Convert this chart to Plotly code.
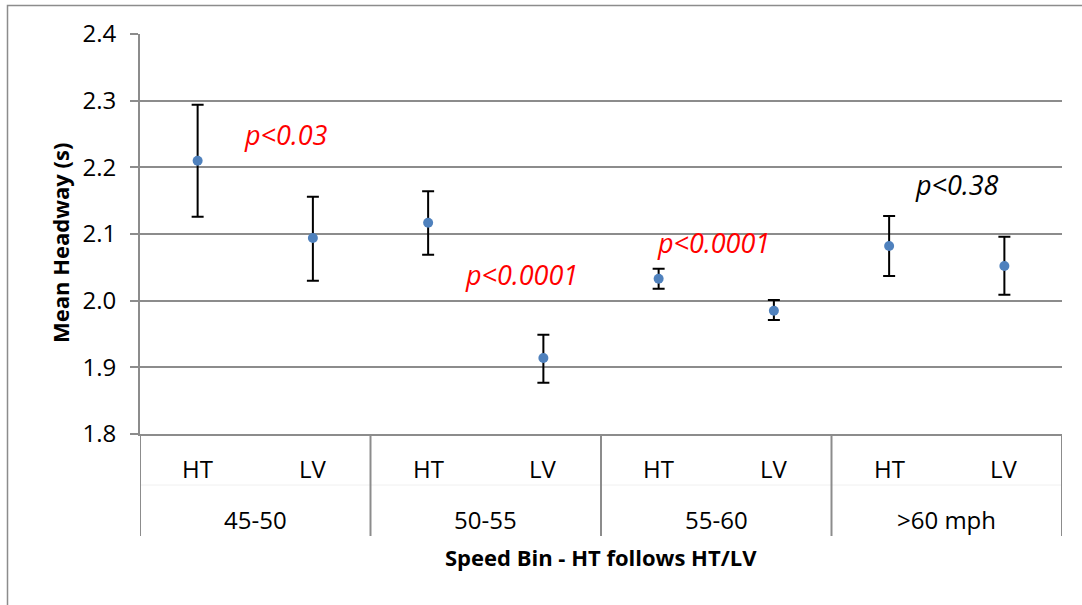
import plotly.graph_objects as go

# ---- data ----
groups = ["45-50", "50-55", "55-60", ">60 mph"]
subcats = ["HT", "LV"]
means = [2.210, 2.094, 2.117, 1.914, 2.033, 1.985, 2.082, 2.052]
err_plus = [0.084, 0.062, 0.047, 0.035, 0.015, 0.016, 0.045, 0.044]
err_minus = [0.084, 0.064, 0.048, 0.037, 0.015, 0.014, 0.045, 0.043]
p_labels = ["p<0.03", "p<0.0001", "p<0.0001", "p<0.38"]
p_x = [0.77, 2.81, 4.48, 6.59]
p_y = [2.249, 2.040, 2.088, 2.174]
p_colors = ["#FF0000", "#FF0000", "#FF0000", "#000000"]
y_ticks = [1.8, 1.9, 2.0, 2.1, 2.2, 2.3, 2.4]

FONT = "Open Sans"
GRID = "#8C8C8C"

xs = list(range(len(means)))
fig = go.Figure()
fig.add_trace(go.Scatter(
    x=xs, y=means, mode="markers",
    marker=dict(color="#4F81BD", size=10),
    error_y=dict(type="data", array=err_plus, arrayminus=err_minus,
                 color="black", thickness=2, width=6, symmetric=False),
    showlegend=False, hoverinfo="y"))

W, H = 1082, 605
L, R, T, B = 140, 20, 34, 171
pw, ph = W - L - R, H - T - B

def px2paper_x(px):
    return (px - L) / pw

def px2paper_y(py):
    return (H - B - py) / ph

fig.update_layout(
    width=W, height=H,
    margin=dict(l=L, r=R, t=T, b=B),
    paper_bgcolor="white", plot_bgcolor="white",
    font=dict(family=FONT, size=24, color="black"),
    xaxis=dict(range=[-0.5, 7.5], showticklabels=False, showgrid=False,
               zeroline=False, showline=True, linecolor=GRID, linewidth=2,
               ticks="", fixedrange=True),
    yaxis=dict(range=[1.8, 2.4], tickvals=y_ticks, tickformat=".1f",
               showgrid=True, gridcolor=GRID, gridwidth=2, zeroline=False,
               showline=True, linecolor=GRID, linewidth=2,
               ticks="outside", ticklen=8, tickcolor=GRID, tickwidth=2,
               tickfont=dict(size=24), ticklabelstandoff=9, fixedrange=True),
)

shapes = []
# outer chart border
shapes.append(dict(type="rect", xref="paper", yref="paper",
                   x0=px2paper_x(7.5), x1=px2paper_x(W + 20),
                   y0=px2paper_y(H + 20), y1=px2paper_y(5.5),
                   line=dict(color="#8C8C8C", width=1.5), fillcolor="rgba(0,0,0,0)", layer="below"))
# faint separator between category rows
shapes.append(dict(type="line", xref="x", yref="paper", x0=-0.5, x1=7.5,
                   y0=px2paper_y(485), y1=px2paper_y(485),
                   line=dict(color="#F0F0F0", width=1)))
# category dividers
for k in range(len(groups) + 1):
    shapes.append(dict(type="line", xref="x", yref="paper",
                       x0=-0.5 + 2 * k, x1=-0.5 + 2 * k,
                       y0=0, y1=px2paper_y(536),
                       line=dict(color=GRID, width=2)))
fig.update_layout(shapes=shapes)

ann = []
for i, x in enumerate(xs):
    ann.append(dict(x=x, y=px2paper_y(469), xref="x", yref="paper",
                    text=subcats[i % 2], showarrow=False,
                    font=dict(size=24), yanchor="middle"))
for g, name in enumerate(groups):
    ann.append(dict(x=2 * g + 0.5, y=px2paper_y(519), xref="x", yref="paper",
                    text=name, showarrow=False, font=dict(size=24), yanchor="middle"))
ann.append(dict(x=px2paper_x(601), y=px2paper_y(557), xref="paper", yref="paper",
                text="<b>Speed Bin - HT follows HT/LV</b>", showarrow=False,
                font=dict(size=22), yanchor="middle"))
ann.append(dict(x=px2paper_x(60), y=px2paper_y(243), xref="paper", yref="paper",
                text="<b>Mean Headway (s)</b>", showarrow=False, textangle=-90,
                font=dict(size=22), xanchor="center", yanchor="middle"))
for t, x, y, c in zip(p_labels, p_x, p_y, p_colors):
    ann.append(dict(x=x, y=y, xref="x", yref="y", text="<i>" + t + "</i>",
                    showarrow=False, font=dict(size=27, color=c)))
fig.update_layout(annotations=ann)

fig.write_html("out.html", config={"displayModeBar": False})
